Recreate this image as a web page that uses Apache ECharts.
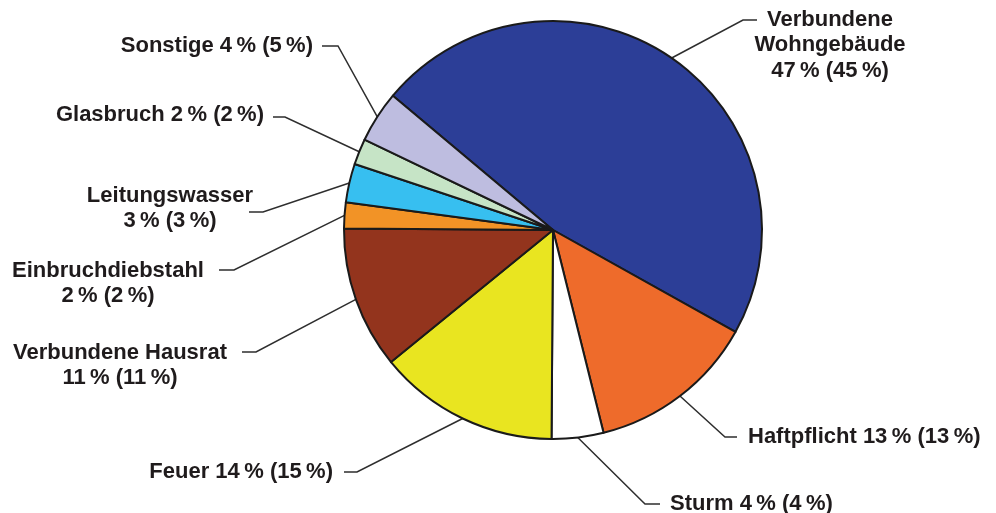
<!DOCTYPE html>
<html>
<head>
<meta charset="utf-8">
<script src="https://cdn.jsdelivr.net/npm/echarts@6/dist/echarts.min.js"></script>
<style>
html,body{margin:0;padding:0;background:#fff;}
#chart{width:996px;height:513px;}
</style>
</head>
<body>
<div id="chart"></div>
<script>
// ---- data ----
const categories = ['Verbundene Wohngebäude', 'Haftpflicht', 'Sturm', 'Feuer', 'Verbundene Hausrat', 'Einbruchdiebstahl', 'Leitungswasser', 'Glasbruch', 'Sonstige'];
const shares = [47, 13, 4, 14, 11, 2, 3, 2, 4];           // current share, %
const previousShares = [45, 13, 4, 15, 11, 2, 3, 2, 5];   // value in brackets, %
const colors = ['#2c3e97', '#ee6b2b', '#ffffff', '#e9e520', '#93341d', '#f29326', '#37bff0', '#c6e4c6', '#bebde0'];

// ---- label placement (layout only) ----
const labelPlacement = [
  { lines: ['Verbundene', 'Wohngebäude'], x: 830, y: 7, align: 'center', va: 'top', bend: [743, 20], end: [757, 20] },
  { lines: null, x: 748, y: 437, align: 'left', va: 'middle', bend: [725, 437], end: [737, 437] },
  { lines: null, x: 670, y: 504, align: 'left', va: 'middle', bend: [645, 504], end: [660, 504] },
  { lines: null, x: 333, y: 472, align: 'right', va: 'middle', bend: [357, 472], end: [344, 472] },
  { lines: ['Verbundene Hausrat'], x: 120, y: 340, align: 'center', va: 'top', bend: [256, 352], end: [242, 352] },
  { lines: ['Einbruchdiebstahl'], x: 108, y: 258, align: 'center', va: 'top', bend: [234, 270], end: [219, 270] },
  { lines: ['Leitungswasser'], x: 170, y: 183, align: 'center', va: 'top', bend: [263, 212], end: [249, 212] },
  { lines: null, x: 264, y: 115, align: 'right', va: 'middle', bend: [285, 117], end: [273, 117] },
  { lines: null, x: 313, y: 46, align: 'right', va: 'middle', bend: [338, 46], end: [322, 46] }
];

const NS = '\u202F';
function pct(v) { return v + NS + '%'; }

const data = categories.map((name, i) => ({
  name: name,
  value: shares[i],
  itemStyle: { color: colors[i] }
}));

const chart = echarts.init(document.getElementById('chart'), null, { renderer: 'canvas' });
chart.setOption({
  animation: false,
  backgroundColor: '#ffffff',
  series: [{
    type: 'pie',
    center: [553, 230],
    radius: 209,
    startAngle: 140,
    clockwise: true,
    avoidLabelOverlap: false,
    data: data,
    itemStyle: { borderColor: '#1a1a1a', borderWidth: 2 },
    label: {
      show: true,
      position: 'outside',
      color: '#1f1b1c',
      fontFamily: '"Liberation Sans", Arial, Helvetica, sans-serif',
      fontWeight: 'bold',
      fontSize: 22,
      lineHeight: 25.5,
      formatter: function (p) {
        const i = p.dataIndex;
        const pl = labelPlacement[i];
        const vals = pct(shares[i]) + ' (' + pct(previousShares[i]) + ')';
        if (pl.lines) return pl.lines.join('\n') + '\n' + vals;
        return categories[i] + ' ' + vals;
      }
    },
    labelLine: {
      show: true,
      length: 20,
      length2: 10,
      lineStyle: { color: '#2e2e2e', width: 1.5 }
    },
    labelLayout: function (params) {
      const pl = labelPlacement[params.dataIndex];
      const start = params.labelLinePoints ? params.labelLinePoints[0] : pl.bend;
      return {
        x: pl.x,
        y: pl.y,
        align: pl.align,
        verticalAlign: pl.va,
        labelLinePoints: [start, pl.bend, pl.end]
      };
    },
    emphasis: { disabled: true }
  }]
});
</script>
</body>
</html>
